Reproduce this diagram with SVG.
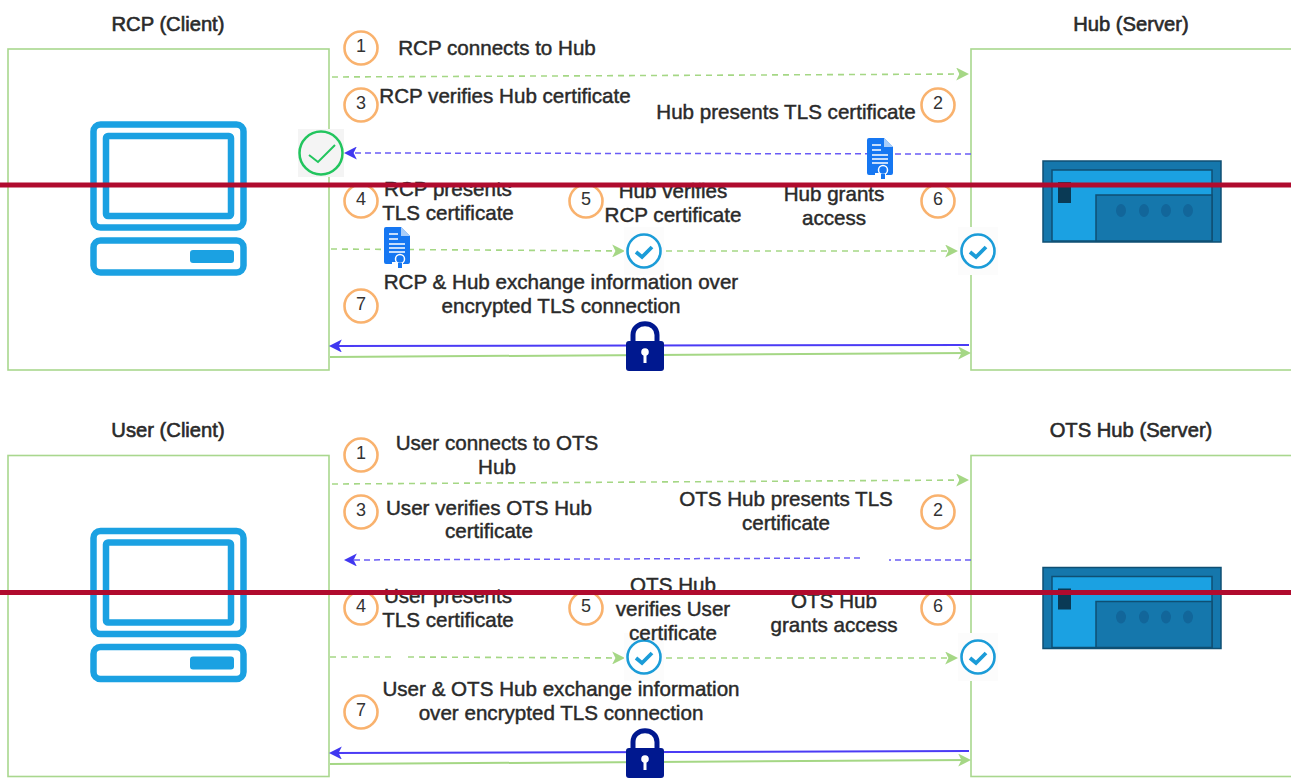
<svg xmlns="http://www.w3.org/2000/svg" xmlns:xlink="http://www.w3.org/1999/xlink" width="1291" height="778" viewBox="0 0 1291 778">
<style>
text{font-family:"Liberation Sans",Arial,sans-serif;font-size:20.6px;fill:#2a2a2a;stroke:#2a2a2a;stroke-width:.45px;text-anchor:middle}
.title{font-size:20.2px;stroke-width:.6px}
.panel{fill:#fff;stroke:#A9D78E;stroke-width:1.6}
.num{fill:#fff;stroke:#F9B26E;stroke-width:2.6}
.n{font-size:18px;stroke-width:0;fill:#333}
.gd,.bd,.g,.b{fill:none}
.gd{stroke:#A5D785;stroke-width:1.6;stroke-dasharray:6 5;marker-end:url(#ga)}
.bd{stroke:#6A5CF5;stroke-width:1.5;stroke-dasharray:6 4;marker-end:url(#ba)}
.g{stroke:#A5D785;stroke-width:2;marker-end:url(#ga)}
.b{stroke:#4B3BF5;stroke-width:2;marker-end:url(#ba)}
.bar{stroke:#B00B2E;stroke-width:5}
.pc{fill:none;stroke:#1BA1E2;stroke-width:6.5}
</style>
<defs>
<marker id="ga" viewBox="0 0 12 12" refX="10" refY="6" markerWidth="13" markerHeight="13" markerUnits="userSpaceOnUse" orient="auto"><path d="M0 0L12 6L0 12L3 6Z" fill="#A5D785"/></marker>
<marker id="ba" viewBox="0 0 12 12" refX="10" refY="6" markerWidth="13" markerHeight="13" markerUnits="userSpaceOnUse" orient="auto"><path d="M0 0L12 6L0 12L3 6Z" fill="#4037F0"/></marker>
<g id="computer">
<rect class="pc" x="93.500" y="124.500" width="150" height="103" rx="7"/>
<rect class="pc" x="106" y="136" width="125" height="80" rx="2"/>
<rect class="pc" x="93.500" y="240.500" width="150" height="32" rx="7"/>
<rect x="190" y="250" width="44" height="13" rx="3" fill="#1BA1E2"/>
</g>
<g id="server">
<rect x="1043" y="161" width="178" height="81" fill="#1577AC" stroke="#0F4F73" stroke-width="1.500"/>
<rect x="1052" y="170" width="160" height="71" fill="#1BA1E2" stroke="#0F4F73" stroke-width="1.500"/>
<rect x="1096" y="195" width="116" height="46" fill="#1577AC" stroke="#0F4F73" stroke-width="1.500"/>
<rect x="1058" y="182" width="13" height="21" fill="#0A3A55"/>
<g fill="#12669A"><ellipse cx="1121" cy="210.500" rx="5" ry="6.500"/><ellipse cx="1144" cy="210.500" rx="5" ry="6.500"/><ellipse cx="1166" cy="210.500" rx="5" ry="6.500"/><ellipse cx="1188" cy="210.500" rx="5" ry="6.500"/></g>
</g>
<g id="doc">
<path d="M0 2Q0 0 2 0H17L26 9V35Q26 37 24 37H19V35H8V37H2Q0 37 0 35Z" fill="#1677F2"/>
<path d="M17 0V9H26Z" fill="#A9CDF9"/>
<path d="M5 7H14M5 12H14M5 17H21M5 21H21M5 25H21" stroke="#fff" stroke-width="1.400"/>
<circle cx="16" cy="32" r="4.500" fill="#1677F2" stroke="#fff" stroke-width="1.500"/>
<rect x="14" y="36" width="4" height="5" fill="#1677F2"/>
</g>
<g id="check">
<rect x="-20" y="-24" width="40" height="48" fill="#fcfcfc"/>
<circle r="16.500" fill="#fff" stroke="#1B9CD8" stroke-width="2.600"/>
<path d="M-8 1L-2 6L8 -4" fill="none" stroke="#1B9CD8" stroke-width="3.800"/>
</g>
<g id="lock">
<path d="M7 21V13C7 -2 31 -2 31 13V21" fill="none" stroke="#00188F" stroke-width="5"/>
<rect x="0" y="19" width="38" height="30" rx="3" fill="#00188F"/>
<circle cx="19" cy="30" r="3.800" fill="#fff"/>
<rect x="17.500" y="31" width="3" height="10" fill="#fff"/>
</g>
</defs>
<rect width="1291" height="778" fill="#fff"/>

<g id="rcp-client"><rect class="panel" x="8" y="49" width="321" height="321"/><use href="#computer"/><text class="title" x="168" y="31">RCP (Client)</text></g>
<g id="hub-server"><rect class="panel" x="971" y="49" width="325" height="321"/><use href="#server"/><text class="title" x="1131" y="31">Hub (Server)</text></g>
<g id="user-client"><rect class="panel" x="8" y="455.500" width="321" height="321"/><use href="#computer" y="406.500"/><text class="title" x="168" y="437">User (Client)</text></g>
<g id="ots-hub-server"><rect class="panel" x="971" y="455.500" width="325" height="321"/><use href="#server" y="406.500"/><text class="title" x="1131" y="437">OTS Hub (Server)</text></g>

<g id="connectors">
<path class="gd" d="M332 77L967 74"/>
<path class="bd" d="M971 154L346 153"/>
<path class="gd" d="M331 249L623 251"/>
<path class="gd" d="M666 251L956 251"/>
<path class="b" d="M969 345L331 346"/>
<path class="g" d="M330 357L969 353"/>
<path class="gd" d="M332 484L967 480"/>
<path class="bd" d="M860 558L346 560"/>
<path class="bd" d="M971 560L889 560" style="marker-end:none"/>
<path class="gd" d="M330 657L392 657" style="marker-end:none"/>
<path class="gd" d="M408 657L623 658"/>
<path class="gd" d="M666 658L956 658"/>
<path class="b" d="M969 751L331 753"/>
<path class="g" d="M330 764L969 760"/>
</g>

<g id="status-rcp"><rect x="298" y="129" width="46" height="48" fill="#f4f4f4"/><circle cx="321" cy="153" r="21.500" fill="none" stroke="#22C55E" stroke-width="2.500"/><path d="M309 155L318 162L335 145" fill="none" stroke="#22C55E" stroke-width="2"/></g>
<g id="cert-hub"><use href="#doc" x="867" y="138"/></g>
<g id="cert-rcp"><use href="#doc" x="384" y="227"/></g>
<g id="check-top-mid"><use href="#check" x="644" y="251"/></g>
<g id="check-top-right"><use href="#check" x="978" y="251"/></g>
<g id="check-bottom-mid"><use href="#check" x="644" y="657"/></g>
<g id="check-bottom-right"><use href="#check" x="978" y="657"/></g>
<g id="lock-top"><use href="#lock" x="626" y="322"/></g>
<g id="lock-bottom"><use href="#lock" x="626" y="729"/></g>

<g id="step-t1"><circle class="num" cx="361" cy="48" r="16.500"/><text class="n" x="361" y="52">1</text><text x="497" y="55">RCP connects to Hub</text></g>
<g id="step-t2"><circle class="num" cx="938" cy="105" r="16.500"/><text class="n" x="938" y="109">2</text><text x="786" y="119">Hub presents TLS certificate</text></g>
<g id="step-t3"><circle class="num" cx="361" cy="105" r="16.500"/><text class="n" x="361" y="109">3</text><text x="505" y="103">RCP verifies Hub certificate</text></g>
<g id="step-t4"><circle class="num" cx="361" cy="201" r="16.500"/><text class="n" x="361" y="205">4</text><text x="448" y="196">RCP presents</text><text x="448" y="220">TLS certificate</text></g>
<g id="step-t5"><circle class="num" cx="586" cy="201" r="16.500"/><text class="n" x="586" y="205">5</text><text x="673" y="198">Hub verifies</text><text x="673" y="222">RCP certificate</text></g>
<g id="step-t6"><circle class="num" cx="938" cy="201" r="16.500"/><text class="n" x="938" y="205">6</text><text x="834" y="201">Hub grants</text><text x="834" y="225">access</text></g>
<g id="step-t7"><circle class="num" cx="361" cy="306" r="16.500"/><text class="n" x="361" y="310">7</text><text x="561" y="289">RCP &amp; Hub exchange information over</text><text x="561" y="313">encrypted TLS connection</text></g>

<g id="step-b1"><circle class="num" cx="361" cy="455" r="16.500"/><text class="n" x="361" y="459">1</text><text x="497" y="450">User connects to OTS</text><text x="497" y="474">Hub</text></g>
<g id="step-b2"><circle class="num" cx="938" cy="512" r="16.500"/><text class="n" x="938" y="516">2</text><text x="786" y="506">OTS Hub presents TLS</text><text x="786" y="530">certificate</text></g>
<g id="step-b3"><circle class="num" cx="361" cy="512" r="16.500"/><text class="n" x="361" y="516">3</text><text x="489" y="515">User verifies OTS Hub</text><text x="489" y="538">certificate</text></g>
<g id="step-b4"><circle class="num" cx="361" cy="608" r="16.500"/><text class="n" x="361" y="612">4</text><text x="448" y="603">User presents</text><text x="448" y="627">TLS certificate</text></g>
<g id="step-b5"><circle class="num" cx="586" cy="608" r="16.500"/><text class="n" x="586" y="612">5</text><text x="673" y="592">OTS Hub</text><text x="673" y="616">verifies User</text><text x="673" y="640">certificate</text></g>
<g id="step-b6"><circle class="num" cx="938" cy="608" r="16.500"/><text class="n" x="938" y="612">6</text><text x="834" y="608">OTS Hub</text><text x="834" y="632">grants access</text></g>
<g id="step-b7"><circle class="num" cx="361" cy="712" r="16.500"/><text class="n" x="361" y="716">7</text><text x="561" y="696">User &amp; OTS Hub exchange information</text><text x="561" y="720">over encrypted TLS connection</text></g>

<line class="bar" x1="0" y1="185" x2="1291" y2="185"/>
<line class="bar" x1="0" y1="592.500" x2="1291" y2="592.500"/>
</svg>
